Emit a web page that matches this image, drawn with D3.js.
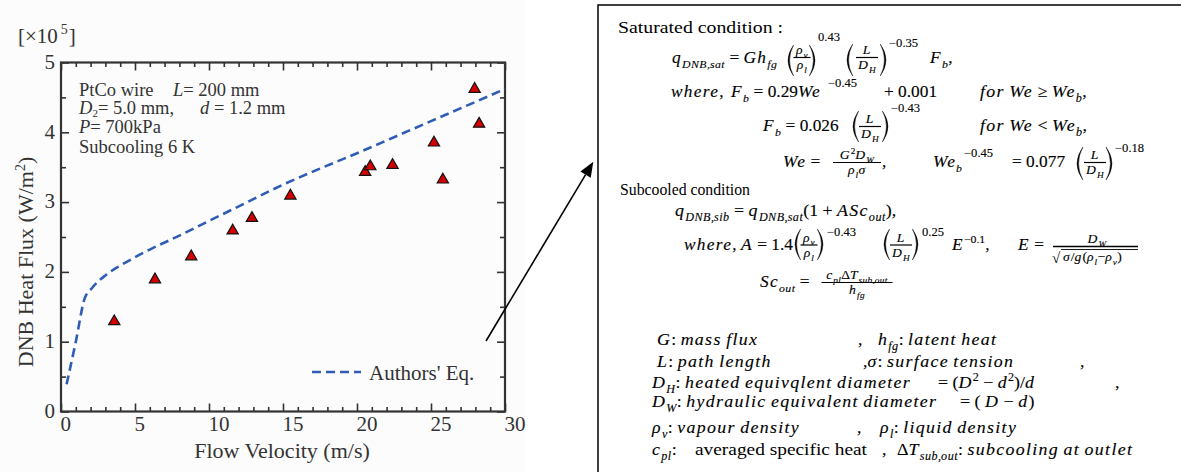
<!DOCTYPE html>
<html>
<head>
<meta charset="utf-8">
<script src="https://cdn.jsdelivr.net/npm/d3@7"></script>
<style>
  body { margin: 0; background: #fff; }
  svg { display: block; }
</style>
</head>
<body>
<div id="chart"></div>
<script>
// measured points (flow velocity m/s, DNB heat flux x1e5 W/m2)
const velocity = [3.6, 6.35, 8.8, 11.6, 12.9, 15.5, 20.55, 20.9, 22.4, 25.2, 25.8, 27.95, 28.25];
const dnbFlux = [1.29, 1.89, 2.22, 2.59, 2.77, 3.09, 3.43, 3.51, 3.53, 3.85, 3.32, 4.62, 4.12];

// authors' equation curve
const eqVelocity = [0.38, 1.0, 1.6, 2.1, 3.0, 4.0, 5.0, 6.0, 8.0, 10, 12.5, 15, 17.5, 20, 22.5, 25, 27.5, 30];
const eqFlux = [0.39, 1.0, 1.62, 1.77, 1.95, 2.09, 2.21, 2.32, 2.52, 2.73, 2.99, 3.25, 3.48, 3.70, 3.93, 4.16, 4.39, 4.62];

const xTicks = [0, 5, 10, 15, 20, 25, 30];
const yTicks = [0, 1, 2, 3, 4, 5];

const W = 1181, H = 472;
const AXIS = "#333";
const SERIF = "'Liberation Serif', 'Times New Roman', serif";

const svg = d3.select("#chart").append("svg")
    .attr("width", W)
    .attr("height", H);

// scanned figure background
svg.append("rect").attr("width", 525).attr("height", H).attr("fill", "#fcfcfc");

const plot = { left: 61, right: 505, top: 62.5, bottom: 411.5 };

const x = d3.scaleLinear().domain([0, 30]).range([plot.left, plot.right]);
const y = d3.scaleLinear().domain([0, 5]).range([plot.bottom, plot.top]);

// ---- axes (ticks point inward on all four sides) ----
function drawTicks(axis, transform, showLabels) {
    let g = svg.append("g").attr("transform", transform).call(axis);
    g.select(".domain").remove();
    g.selectAll(".tick line").attr("stroke", AXIS).attr("stroke-width", 1.6);
    if (!showLabels) g.selectAll(".tick text").remove();
    return g;
}

const xMinor = d3.range(0, 31, 1).filter(d => d % 5 !== 0);
const yMinor = d3.range(0.5, 5, 1);

let bottomAxis = drawTicks(d3.axisBottom(x).tickValues(xTicks).tickSize(-8).tickPadding(5).tickFormat(d3.format("d")),
    `translate(0,${plot.bottom})`, true);
bottomAxis.selectAll(".tick text")
    .attr("text-anchor", "start")
    .attr("dx", -1)
    .attr("font-family", SERIF)
    .attr("font-size", 21)
    .attr("fill", AXIS);
drawTicks(d3.axisBottom(x).tickValues(xMinor).tickSize(-4.5), `translate(0,${plot.bottom})`, false);
drawTicks(d3.axisTop(x).tickValues(xTicks).tickSize(-8), `translate(0,${plot.top})`, false);
drawTicks(d3.axisTop(x).tickValues(xMinor).tickSize(-4.5), `translate(0,${plot.top})`, false);

let leftAxis = drawTicks(d3.axisLeft(y).tickValues(yTicks).tickSize(-8).tickPadding(6).tickFormat(d3.format("d")),
    `translate(${plot.left},0)`, true);
leftAxis.selectAll(".tick text")
    .attr("dy", "0.28em")
    .attr("font-family", SERIF)
    .attr("font-size", 21)
    .attr("fill", AXIS);
drawTicks(d3.axisLeft(y).tickValues(yMinor).tickSize(-5), `translate(${plot.left},0)`, false);
drawTicks(d3.axisRight(y).tickValues(yTicks).tickSize(-8), `translate(${plot.right},0)`, false);
drawTicks(d3.axisRight(y).tickValues(yMinor).tickSize(-5), `translate(${plot.right},0)`, false);

svg.append("rect")
    .attr("x", plot.left).attr("y", plot.top)
    .attr("width", plot.right - plot.left).attr("height", plot.bottom - plot.top)
    .attr("fill", "none").attr("stroke", AXIS).attr("stroke-width", 2.2);

// axis titles
svg.append("text")
    .attr("x", 282).attr("y", 458)
    .attr("text-anchor", "middle")
    .attr("font-family", SERIF).attr("font-size", 22).attr("fill", AXIS)
    .text("Flow Velocity (m/s)");

let yTitle = svg.append("text")
    .attr("transform", "translate(33,262) rotate(-90)")
    .attr("text-anchor", "middle")
    .attr("font-family", SERIF).attr("font-size", 22).attr("fill", AXIS);
yTitle.append("tspan").text("DNB Heat Flux (W/m");
yTitle.append("tspan").attr("font-size", 14).attr("dy", -8).text("2");
yTitle.append("tspan").attr("dy", 8).text(")");

let unit = svg.append("text")
    .attr("x", 18).attr("y", 43)
    .attr("font-family", SERIF).attr("font-size", 21).attr("fill", AXIS);
unit.append("tspan").text("[×10");
unit.append("tspan").attr("font-size", 14).attr("dx", 3).attr("dy", -9).text("5");
unit.append("tspan").attr("dx", 1).attr("dy", 9).text("]");

// conditions note
const note = svg.append("g")
    .attr("font-family", SERIF).attr("font-size", 18.5).attr("fill", AXIS);
note.append("text").attr("x", 79).attr("y", 96).text("PtCo wire");
note.append("text").attr("x", 173).attr("y", 96)
    .call(t => { t.append("tspan").attr("font-style", "italic").text("L"); t.append("tspan").text("= 200 mm"); });
note.append("text").attr("x", 79).attr("y", 114)
    .call(t => {
        t.append("tspan").attr("font-style", "italic").text("D");
        t.append("tspan").attr("font-size", 11).attr("dy", 2.5).text("2");
        t.append("tspan").attr("dy", -2.5).text("= 5.0 mm,");
    });
note.append("text").attr("x", 200).attr("y", 114)
    .call(t => { t.append("tspan").attr("font-style", "italic").text("d"); t.append("tspan").text(" = 1.2 mm"); });
note.append("text").attr("x", 79).attr("y", 133)
    .call(t => { t.append("tspan").attr("font-style", "italic").text("P"); t.append("tspan").text("= 700kPa"); });
note.append("text").attr("x", 79).attr("y", 153).text("Subcooling 6 K");

// ---- authors' equation (dashed) ----
const eqData = eqVelocity.map((v, i) => [v, eqFlux[i]]);
const line = d3.line().x(d => x(d[0])).y(d => y(d[1])).curve(d3.curveMonotoneX);

svg.append("path")
    .datum(eqData)
    .attr("d", line)
    .attr("fill", "none")
    .attr("stroke", "#2f5db5")
    .attr("stroke-width", 2.6)
    .attr("stroke-dasharray", "9,5");

// ---- measured points ----
const pts = velocity.map((v, i) => ({ v: v, q: dnbFlux[i] }));
svg.append("g").selectAll("path")
    .data(pts)
    .enter().append("path")
    .attr("transform", d => `translate(${x(d.v)},${y(d.q)})`)
    .attr("d", d3.symbol(d3.symbolTriangle).size(55))
    .attr("fill", "#d40000")
    .attr("stroke", "#111")
    .attr("stroke-width", 1.2);

// legend
svg.append("line")
    .attr("x1", 312).attr("x2", 361).attr("y1", 372).attr("y2", 372)
    .attr("stroke", "#2f5db5").attr("stroke-width", 2.6).attr("stroke-dasharray", "9,5");
svg.append("text")
    .attr("x", 369).attr("y", 380)
    .attr("font-family", SERIF).attr("font-size", 21).attr("fill", AXIS)
    .text("Authors' Eq.");

// ---- pointer arrow ----
const arrowFrom = [486, 341], arrowTip = [593.3, 161.7];
let dx = arrowTip[0] - arrowFrom[0], dy = arrowTip[1] - arrowFrom[1];
let len = Math.hypot(dx, dy), ux = dx / len, uy = dy / len;
let back = [arrowTip[0] - ux * 15, arrowTip[1] - uy * 15];
svg.append("line")
    .attr("x1", arrowFrom[0]).attr("y1", arrowFrom[1])
    .attr("x2", back[0]).attr("y2", back[1])
    .attr("stroke", "#000").attr("stroke-width", 1.6);
svg.append("path")
    .attr("d", `M${arrowTip[0]},${arrowTip[1]}L${back[0] - uy * 6},${back[1] + ux * 6}L${back[0] + uy * 6},${back[1] - ux * 6}Z`)
    .attr("fill", "#000");

// ---- equation box ----
const box = svg.append("g");
box.append("rect")
    .attr("x", 598).attr("y", 5).attr("width", 620).attr("height", 500)
    .attr("fill", "#fff").attr("stroke", "#000").attr("stroke-width", 1.5);

// the pasted equations are a bit stretched sideways; italic letters are wider than Times
const SX = 1.05;

// math text: letters italic, digits/operators upright, _{} subscript, ^{} superscript
function mathText(g, px, py, src, size, anchor) {
    let t = g.append("text")
        .attr("transform", `translate(${px},${py}) scale(${SX},1)`)
        .attr("font-family", SERIF)
        .attr("font-size", size)
        .attr("text-anchor", anchor || "start")
        .attr("stroke", "#000").attr("stroke-width", 0.12)
        .style("white-space", "pre");
    let cur = 0;
    const re = /([_^])\{([^}]*)\}|([^_^]+)/g;
    let m;
    while ((m = re.exec(src)) !== null) {
        let small = !!m[1];
        let str = small ? m[2] : m[3];
        let fs = small ? size * 0.68 : size;
        let off = !small ? 0 : (m[1] === "_" ? size * 0.3 : -size * 0.42);
        str.match(/[A-Za-zρσ]+|[^A-Za-zρσ]+/g).forEach((run, i) => {
            let sp = t.append("tspan")
                .attr("font-size", fs)
                .attr("dy", i === 0 ? off - cur : 0)
                .text(run);
            if (/[A-Za-zρσ]/.test(run)) {
                sp.attr("font-style", "italic")
                    .attr("letter-spacing", (fs * (small ? 0.04 : 0.075)).toFixed(2));
            }
        });
        cur = off;
    }
    return t;
}

function prose(px, py, str, w) {
    box.append("text")
        .attr("x", px).attr("y", py)
        .attr("font-family", SERIF).attr("font-size", 16)
        .attr("textLength", w).attr("lengthAdjust", "spacingAndGlyphs")
        .text(str);
}

function frac(cx, yBar, num, den, w, size) {
    mathText(box, cx, yBar - 3.5, num, size, "middle");
    box.append("line")
        .attr("x1", cx - w / 2).attr("x2", cx + w / 2)
        .attr("y1", yBar).attr("y2", yBar)
        .attr("stroke", "#000").attr("stroke-width", 1.2);
    mathText(box, cx, yBar + size * 0.9, den, size, "middle");
}

// big parenthesis drawn as a crescent; px is the outer extreme
function paren(px, y0, y1, open) {
    let mid = (y0 + y1) / 2, b = (y1 - y0) * 0.18, s = open ? 1 : -1;
    let xe = px + s * b;
    let d = `M${xe},${y0}Q${px - s * b},${mid} ${xe},${y1}Q${px + s * (3.2 - b)},${mid} ${xe},${y0}Z`;
    box.append("path").attr("d", d).attr("fill", "#000").attr("stroke", "#000").attr("stroke-width", 0.4);
}

const M = 16.5, L = 17, S = 12, F = 13;

prose(618, 33, "Saturated condition :", 165);

// q_DNB,sat
mathText(box, 672, 63, "q_{DNB,sat} = Gh_{fg}", M);
paren(788, 45, 76, true); frac(802, 57.5, "ρ_{v}", "ρ_{l}", 17, F); paren(815, 45, 76, false);
mathText(box, 818, 41, "0.43", S);
paren(847, 44, 76, true); frac(867, 57.5, "L", "D_{H}", 22, F); paren(886, 44, 76, false);
mathText(box, 889, 47, "−0.35", S);
mathText(box, 930, 63, "F_{b},", M);

// F_b (We >= We_b)
mathText(box, 671, 97, "where,", M);
mathText(box, 731, 97, "F_{b} = 0.29We", M);
mathText(box, 828, 87, "−0.45", S);
mathText(box, 884, 97, "+ 0.001", M);
mathText(box, 980, 97, "for We ≥ We_{b},", L);

// F_b (We < We_b)
mathText(box, 763, 131, "F_{b} = 0.026", M);
paren(853, 111, 142, true); frac(870, 126.5, "L", "D_{H}", 22, F); paren(888, 111, 142, false);
mathText(box, 891, 112, "−0.43", S);
mathText(box, 980, 131, "for We < We_{b},", L);

// We
mathText(box, 783, 167, "We =", M);
frac(857, 162.5, "G^{2}D_{W}", "ρ_{l}σ", 48, F);
mathText(box, 882, 167, ",", M);
mathText(box, 933, 167, "We_{b}", M);
mathText(box, 964, 157, "−0.45", S);
mathText(box, 1012, 167, "= 0.077", M);
paren(1077, 147, 180, true); frac(1095, 162.5, "L", "D_{H}", 22, F); paren(1112, 147, 180, false);
mathText(box, 1115, 152, "−0.18", S);

prose(620, 195, "Subcooled condition", 130);

mathText(box, 675, 216, "q_{DNB,sib} = q_{DNB,sat}(1 + ASc_{out}),", L);

// A and E
mathText(box, 684, 250, "where,", M);
mathText(box, 741, 250, "A = 1.4", M);
paren(795, 229, 260, true); frac(809, 245, "ρ_{v}", "ρ_{l}", 17, F); paren(823, 229, 260, false);
mathText(box, 827, 236, "−0.43", S);
paren(884, 229, 260, true); frac(901, 245, "L", "D_{H}", 22, F); paren(918, 229, 260, false);
mathText(box, 922, 236, "0.25", S);
mathText(box, 952, 250, "E^{−0.1},", M);
mathText(box, 1018, 250, "E =", M);
mathText(box, 1097, 243, "D_{W}", F, "middle");
box.append("line").attr("x1", 1053).attr("x2", 1138).attr("y1", 246.5).attr("y2", 246.5)
    .attr("stroke", "#000").attr("stroke-width", 1.3);
box.append("text").attr("x", 1052).attr("y", 263)
    .attr("font-family", SERIF).attr("font-size", 15).text("√");
box.append("line").attr("x1", 1061).attr("x2", 1138).attr("y1", 249.5).attr("y2", 249.5)
    .attr("stroke", "#000").attr("stroke-width", 0.9);
mathText(box, 1063, 261, "σ/g(ρ_{l}−ρ_{v})", F);

// Sc_out
mathText(box, 760, 287, "Sc_{out} =", M);
frac(857, 282.5, "c_{pl}ΔT_{sub,out}", "h_{fg}", 71, F);

// nomenclature
mathText(box, 657, 345, "G: mass flux", L);
mathText(box, 858, 345, ",", L);
mathText(box, 878, 345, "h_{fg}: latent heat", L);
mathText(box, 657, 367, "L: path length", L);
mathText(box, 863, 367, ",σ: surface tension", L);
mathText(box, 1080, 367, ",", L);
mathText(box, 652, 388, "D_{H}: heated equivqlent diameter", L);
mathText(box, 938, 388, "= (D^{2} − d^{2})/d", L);
mathText(box, 1115, 388, ",", L);
mathText(box, 652, 407, "D_{W}: hydraulic equivalent diameter", L);
mathText(box, 960, 407, "= ( D − d)", L);
mathText(box, 652, 433, "ρ_{v}: vapour density", L);
mathText(box, 857, 433, ",", L);
mathText(box, 880, 433, "ρ_{l}: liquid density", L);
mathText(box, 652, 455, "c_{pl}:", L);
prose(695, 455, "averaged specific heat", 172);
mathText(box, 882, 455, ",", L);
mathText(box, 897, 455, "ΔT_{sub,out}: subcooling at outlet", L);
</script>
</body>
</html>
